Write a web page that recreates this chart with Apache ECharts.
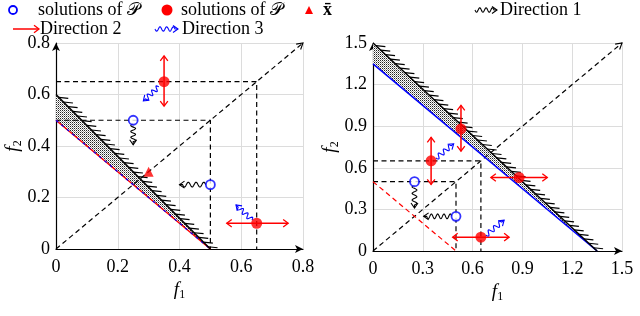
<!DOCTYPE html>
<html><head><meta charset="utf-8">
<script src="https://cdn.jsdelivr.net/npm/echarts@6/dist/echarts.min.js"></script>
<style>html,body{margin:0;padding:0;background:#fff}#c{width:640px;height:316px}</style>
</head><body><div id="c"></div>
<script>
// ---------- data ----------
const xTicksL = [0, 0.2, 0.4, 0.6, 0.8];
const yTicksL = [0, 0.2, 0.4, 0.6, 0.8];
const xTicksR = [0, 0.3, 0.6, 0.9, 1.2, 1.5];
const yTicksR = [0, 0.3, 0.6, 0.9, 1.2, 1.5];

const L_outerFront = [[0, 0.6], [0.5, 0]];
const L_innerFront = [[0, 0.5], [0.5, 0]];
const L_band = [[0, 0.6, 0.5, 0, 0, 0.5]];
const L_boxHigh = [[0, 0.65], [0.65, 0.65], [0.65, 0]];
const L_boxLow = [[0, 0.5], [0.5, 0.5], [0.5, 0]];
const L_diag = [[0, 0, 0.8, 0.8]];
const L_openPts = [[0.25, 0.5], [0.5, 0.25]];
const L_filledPts = [[0.35, 0.65], [0.65, 0.1]];
const L_xbar = [[0.3, 0.3]];
const L_dir1 = [[0.25, 0.485, 0.25, 0.405], [0.485, 0.25, 0.4, 0.25]];
const L_dir2 = [[0.35, 0.555, 0.35, 0.75], [0.553, 0.1, 0.752, 0.1]];
const L_dir3 = [[0.333, 0.63, 0.283, 0.575], [0.635, 0.112, 0.583, 0.171]];

const R_outerFront = [[0, 1.5], [1.35, 0]];
const R_innerFront = [[0, 1.35], [1.35, 0]];
const R_band = [[0, 1.5, 1.35, 0, 0, 1.35]];
const R_refLine = [[0, 0.5], [0.5, 0]];
const R_boxHigh = [[0, 0.65], [0.65, 0.65], [0.65, 0]];
const R_boxLow = [[0, 0.5], [0.5, 0.5], [0.5, 0]];
const R_diag = [[0, 0, 1.5, 1.5]];
const R_openPts = [[0.25, 0.5], [0.5, 0.25]];
const R_filledPts = [[0.35, 0.65], [0.53, 0.88], [0.88, 0.53], [0.65, 0.1]];
const R_dir1 = [[0.25, 0.475, 0.25, 0.31], [0.475, 0.25, 0.305, 0.25]];
const R_dir2 = [[0.35, 0.48, 0.35, 0.82], [0.53, 0.72, 0.53, 1.05], [0.71, 0.53, 1.05, 0.53], [0.48, 0.1, 0.82, 0.1]];
const R_dir3 = [[0.38, 0.67, 0.486, 0.773], [0.68, 0.114, 0.79, 0.222]];

// ---------- styles ----------
const BLUE = '#0000ff', RED = '#ff0000', BLACK = '#000';
const FONT = '"Liberation Serif", "DejaVu Serif", serif';

function dotPattern() {
  const c = document.createElement('canvas');
  c.width = 2; c.height = 2;
  const g = c.getContext('2d');
  g.fillStyle = '#fff'; g.fillRect(0, 0, 2, 2);
  g.fillStyle = '#222'; g.fillRect(0, 0, 1, 1);
  g.fillStyle = '#999'; g.fillRect(1, 1, 1, 1);
  return c;
}
const PATTERN = dotPattern();

function squigglePts(p0, p1, amp, wl0, headRoom) {
  const dx = p1[0] - p0[0], dy = p1[1] - p0[1];
  const L = Math.hypot(dx, dy);
  const ux = dx / L, uy = dy / L, nx = -uy, ny = ux;
  const wlen = Math.max(1, L - headRoom);
  const nw = Math.max(1, Math.round(wlen / wl0));
  const wl = wlen / nw;
  const pts = [];
  const n = Math.max(12, Math.round(wlen * 2));
  for (let i = 0; i <= n; i++) {
    const t = i / n * wlen;
    const s = amp * Math.sin(2 * Math.PI * t / wl);
    pts.push([p0[0] + ux * t + nx * s, p0[1] + uy * t + ny * s]);
  }
  pts.push([p1[0], p1[1]]);
  return pts;
}
function headPts(from, tip, h, w) {
  const dx = tip[0] - from[0], dy = tip[1] - from[1];
  const L = Math.hypot(dx, dy) || 1;
  const ux = dx / L, uy = dy / L, nx = -uy, ny = ux;
  return [[tip[0] - ux * h + nx * w, tip[1] - uy * h + ny * w], [tip[0], tip[1]], [tip[0] - ux * h - nx * w, tip[1] - uy * h - ny * w]];
}

function squiggleRender(color) {
  return function (params, api) {
    const a = api.coord([api.value(0), api.value(1)]);
    const b = api.coord([api.value(2), api.value(3)]);
    const pts = squigglePts(a, b, 2.4, 7, 3);
    return {
      type: 'group', children: [
        { type: 'polyline', shape: { points: pts }, style: { stroke: color, fill: null, lineWidth: 1.1 } },
        { type: 'polyline', shape: { points: headPts(a, b, 5, 3.5) }, style: { stroke: color, fill: null, lineWidth: 1.1 } }
      ]
    };
  };
}
function doubleArrowRender(params, api) {
  const a = api.coord([api.value(0), api.value(1)]);
  const b = api.coord([api.value(2), api.value(3)]);
  return {
    type: 'group', children: [
      { type: 'line', shape: { x1: a[0], y1: a[1], x2: b[0], y2: b[1] }, style: { stroke: RED, lineWidth: 1.5 } },
      { type: 'polyline', shape: { points: headPts(a, b, 5, 3.8) }, style: { stroke: RED, fill: null, lineWidth: 1.3 } },
      { type: 'polyline', shape: { points: headPts(b, a, 5, 3.8) }, style: { stroke: RED, fill: null, lineWidth: 1.3 } }
    ]
  };
}
function diagRender(params, api) {
  const a = api.coord([api.value(0), api.value(1)]);
  const b = api.coord([api.value(2), api.value(3)]);
  return {
    type: 'group', children: [
      { type: 'line', shape: { x1: a[0], y1: a[1], x2: b[0], y2: b[1] }, style: { stroke: BLACK, lineWidth: 1.2, lineDash: [5, 3.5] } },
      { type: 'polyline', shape: { points: headPts(a, b, 6, 3.5) }, style: { stroke: BLACK, fill: null, lineWidth: 1.1 } }
    ]
  };
}
function bandRender(params, api) {
  const pts = [];
  for (let i = 0; i < 3; i++) pts.push(api.coord([api.value(2 * i), api.value(2 * i + 1)]));
  return { type: 'polygon', shape: { points: pts }, style: { fill: { image: PATTERN, repeat: 'repeat' }, stroke: null } };
}
function hatchRender(params, api) {
  const a = api.coord([api.value(0), api.value(1)]);
  const b = api.coord([api.value(2), api.value(3)]);
  const L = Math.hypot(b[0] - a[0], b[1] - a[1]);
  const ux = (b[0] - a[0]) / L, uy = (b[1] - a[1]) / L;
  const ang = 6 * Math.PI / 180, len = 9.5, sp = 6.6;
  const tx = Math.cos(ang) * len, ty = Math.sin(ang) * len;
  const children = [];
  for (let t = 4; t <= L + 0.5; t += sp) {
    const x = a[0] + ux * t, y = a[1] + uy * t;
    children.push({ type: 'line', shape: { x1: x, y1: y, x2: x + tx, y2: y + ty }, style: { stroke: BLACK, lineWidth: 1.2 } });
  }
  return { type: 'group', children: children };
}

function panelSeries(idx, d) {
  const ax = { xAxisIndex: idx, yAxisIndex: idx, animation: false, silent: true };
  const enc4 = { x: [0, 2], y: [1, 3] };
  const s = [];
  const dashed = { color: BLACK, width: 1.2, type: [5, 3.5] };
  s.push(Object.assign({ type: 'custom', renderItem: bandRender, data: d.band, encode: { x: [0, 2, 4], y: [1, 3, 5] }, z: 2 }, ax));
  s.push(Object.assign({ type: 'line', data: d.boxHigh, symbol: 'none', lineStyle: dashed, z: 3 }, ax));
  s.push(Object.assign({ type: 'line', data: d.boxLow, symbol: 'none', lineStyle: dashed, z: 3 }, ax));
  s.push(Object.assign({ type: 'custom', renderItem: diagRender, data: d.diag, encode: enc4, z: 3 }, ax));
  if (d.refLine) s.push(Object.assign({ type: 'line', data: d.refLine, symbol: 'none', lineStyle: { color: RED, width: 1.2, type: [5, 3.5] }, z: 3 }, ax));
  if (d.innerRed) {
    s.push(Object.assign({ type: 'line', data: d.innerFront, symbol: 'none', lineStyle: { color: RED, width: 1.6 }, z: 4 }, ax));
    s.push(Object.assign({ type: 'line', data: d.innerFront, symbol: 'none', lineStyle: { color: BLUE, width: 1.2, type: [3, 4] }, z: 4 }, ax));
  } else {
    s.push(Object.assign({ type: 'line', data: d.innerFront, symbol: 'none', lineStyle: { color: BLUE, width: 1.6 }, z: 4 }, ax));
  }
  s.push(Object.assign({ type: 'line', data: d.outerFront, symbol: 'none', lineStyle: { color: BLACK, width: 1.5 }, z: 5 }, ax));
  s.push(Object.assign({ type: 'custom', renderItem: hatchRender, data: [d.outerFront[0].concat(d.outerFront[1])], encode: enc4, z: 5 }, ax));
  s.push(Object.assign({ type: 'custom', renderItem: squiggleRender(BLACK), data: d.dir1, encode: enc4, z: 6 }, ax));
  s.push(Object.assign({ type: 'custom', renderItem: doubleArrowRender, data: d.dir2, encode: enc4, z: 6 }, ax));
  s.push(Object.assign({ type: 'custom', renderItem: squiggleRender(BLUE), data: d.dir3, encode: enc4, z: 6 }, ax));
  s.push(Object.assign({ type: 'scatter', data: d.openPts, symbol: 'circle', symbolSize: 9, itemStyle: { color: '#fff', borderColor: BLUE, borderWidth: 1.8 }, z: 7 }, ax));
  s.push(Object.assign({ type: 'scatter', data: d.filledPts, symbol: 'circle', symbolSize: 11, itemStyle: { color: RED }, z: 7 }, ax));
  if (d.xbar) s.push(Object.assign({ type: 'scatter', data: d.xbar, symbol: 'triangle', symbolSize: 10, itemStyle: { color: RED }, z: 7 }, ax));
  return s;
}

const series = [].concat(
  panelSeries(0, { band: L_band, boxHigh: L_boxHigh, boxLow: L_boxLow, diag: L_diag, innerFront: L_innerFront, innerRed: true, outerFront: L_outerFront, dir1: L_dir1, dir2: L_dir2, dir3: L_dir3, openPts: L_openPts, filledPts: L_filledPts, xbar: L_xbar }),
  panelSeries(1, { band: R_band, boxHigh: R_boxHigh, boxLow: R_boxLow, diag: R_diag, refLine: R_refLine, innerFront: R_innerFront, innerRed: false, outerFront: R_outerFront, dir1: R_dir1, dir2: R_dir2, dir3: R_dir3, openPts: R_openPts, filledPts: R_filledPts })
);

function fmtTick(v) { return v === 0 ? '0' : String(+v.toFixed(2)); }
function nameRich() {
  return {
    rich: {
      i: { fontFamily: FONT, fontStyle: 'italic', fontSize: 19, color: BLACK },
      s: { fontFamily: FONT, fontSize: 12, color: BLACK, padding: [9, 0, 0, 0] }
    }
  };
}
function mkX(idx, ticks) {
  return {
    type: 'value', gridIndex: idx, min: ticks[0], max: ticks[ticks.length - 1], interval: ticks[1] - ticks[0],
    axisLine: { show: true, onZero: false, symbol: ['none', 'arrow'], symbolSize: [6, 8], lineStyle: { color: BLACK, width: 1.2 } },
    axisTick: { show: false },
    axisLabel: { color: BLACK, fontFamily: FONT, fontSize: 18, margin: 9, formatter: fmtTick, showMinLabel: true, showMaxLabel: true },
    splitLine: { show: true, lineStyle: { color: '#dcdcdc', width: 1 } },
    name: '{i|f}{s|1}', nameLocation: 'middle', nameGap: 29, nameTextStyle: nameRich()
  };
}
function mkY(idx, ticks) {
  return {
    type: 'value', gridIndex: idx, min: ticks[0], max: ticks[ticks.length - 1], interval: ticks[1] - ticks[0],
    axisLine: { show: true, onZero: false, symbol: ['none', 'arrow'], symbolSize: [6, 8], lineStyle: { color: BLACK, width: 1.2 } },
    axisTick: { show: false },
    axisLabel: { color: BLACK, fontFamily: FONT, fontSize: 18, margin: 6, formatter: fmtTick, showMinLabel: true, showMaxLabel: true },
    splitLine: { show: true, lineStyle: { color: '#dcdcdc', width: 1 } },
    name: '{i|f}{s|2}', nameLocation: 'middle', nameGap: 23, nameRotate: 90, nameTextStyle: nameRich()
  };
}

// ---------- legend (graphic) ----------
const LF = '18px ' + FONT;
function legendSquiggle(x0, x1, y, color) {
  const pts = squigglePts([x0, y], [x1, y], 2.2, 6.5, 3);
  return [
    { type: 'polyline', shape: { points: pts }, style: { stroke: color, fill: null, lineWidth: 1.1 } },
    { type: 'polyline', shape: { points: headPts([x0, y], [x1, y], 5, 3.5) }, style: { stroke: color, fill: null, lineWidth: 1.1 } }
  ];
}
const graphic = [
  { type: 'circle', shape: { cx: 13, cy: 10, r: 4 }, style: { fill: '#fff', stroke: BLUE, lineWidth: 1.8 } },
  { type: 'text', x: 38, y: 10, style: { text: 'solutions of 𝒫', font: LF, fill: BLACK, verticalAlign: 'middle' } },
  { type: 'circle', shape: { cx: 167, cy: 10, r: 5.5 }, style: { fill: RED } },
  { type: 'text', x: 181, y: 10, style: { text: 'solutions of 𝒫', font: LF, fill: BLACK, verticalAlign: 'middle' } },
  { type: 'polygon', shape: { points: [[305, 14], [313, 14], [309, 6]] }, style: { fill: RED } },
  { type: 'text', x: 323, y: 10, style: { text: 'x\u0304', font: 'bold 18px ' + FONT, fill: BLACK, verticalAlign: 'middle' } },
  ...legendSquiggle(475, 497, 10, BLACK),
  { type: 'text', x: 500, y: 10, style: { text: 'Direction 1', font: LF, fill: BLACK, verticalAlign: 'middle' } },
  { type: 'line', shape: { x1: 13, y1: 29, x2: 39, y2: 29 }, style: { stroke: RED, lineWidth: 1.5 } },
  { type: 'polyline', shape: { points: headPts([13, 29], [39, 29], 5, 3.8) }, style: { stroke: RED, fill: null, lineWidth: 1.3 } },
  { type: 'text', x: 40, y: 29, style: { text: 'Direction 2', font: LF, fill: BLACK, verticalAlign: 'middle' } },
  ...legendSquiggle(155, 178, 29, BLUE),
  { type: 'text', x: 182, y: 29, style: { text: 'Direction 3', font: LF, fill: BLACK, verticalAlign: 'middle' } }
];

const chart = echarts.init(document.getElementById('c'), null, { renderer: 'canvas' });
chart.setOption({
  animation: false,
  backgroundColor: '#fff',
  grid: [
    { left: 56, top: 43, width: 247, height: 206 },
    { left: 373, top: 43, width: 249, height: 208 }
  ],
  xAxis: [mkX(0, xTicksL), mkX(1, xTicksR)],
  yAxis: [mkY(0, yTicksL), mkY(1, yTicksR)],
  graphic: graphic,
  series: series
});
</script>
</body></html>
